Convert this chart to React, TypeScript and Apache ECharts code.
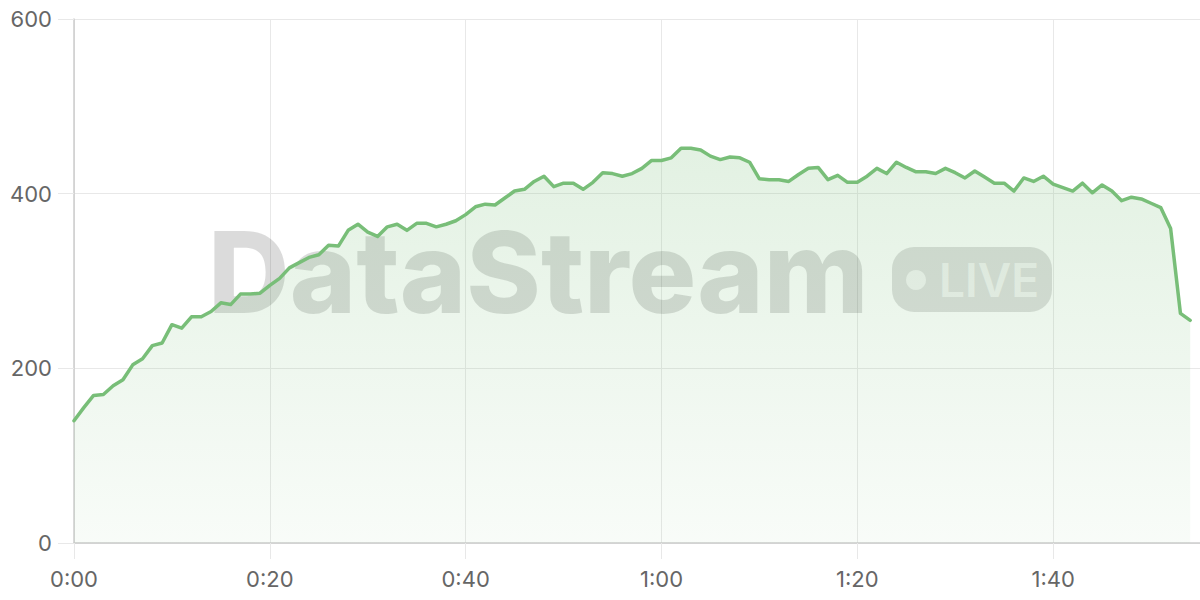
import { useRef, useEffect } from "react";
import * as echarts from "echarts";

// viewers per minute, one sample each minute from 0:00
const viewers = [
  140, 155, 169, 170, 180, 187, 204, 211, 226, 229,
  250, 246, 259, 259, 265, 275, 273, 285, 285, 286,
  295, 303, 315, 321, 327, 330, 341, 340, 358, 365,
  356, 351, 362, 365, 358, 366, 366, 362, 365, 369,
  376, 385, 388, 387, 395, 403, 405, 414, 420, 408,
  412, 412, 405, 413, 424, 423, 420, 423, 429, 438,
  438, 441, 452, 452, 450, 443, 439, 442, 441, 436,
  417, 416, 416, 414, 422, 429, 430, 416, 421, 413,
  413, 420, 429, 423, 436, 430, 425, 425, 423, 429,
  424, 418, 426, 419, 412, 412, 403, 418, 414, 420,
  411, 407, 403, 412, 401, 410, 403, 392, 396, 394,
  389, 384, 360, 263, 255,
];

const yTicks = [0, 200, 400, 600];
const xTickStep = 20;

const fmtTime = (m: number) =>
  Math.floor(m / 60) + ":" + String(Math.round(m) % 60).padStart(2, "0");

const green = "#78be78";
const gridColor = "#e8e8e8";
const axisColor = "#cccccc";
const labelFont = "Inter, 'Noto Sans', sans-serif";

const App = () => {
  const chartRef = useRef<HTMLDivElement>(null);

  useEffect(() => {
    const chart = echarts.init(chartRef.current, null, { renderer: "svg" });

    chart.setOption({
      animation: false,
      grid: { left: 74, right: 0, top: 19, bottom: 57 },
      xAxis: {
        type: "value",
        min: 0,
        max: 115,
        interval: xTickStep,
        axisLine: { show: true, lineStyle: { color: axisColor, width: 1.5 } },
        axisTick: { show: true, length: 16, lineStyle: { color: gridColor } },
        splitLine: { show: true, lineStyle: { color: gridColor, width: 1 } },
        axisLabel: {
          showMaxLabel: false,
          margin: 25,
          color: "#666",
          fontSize: 22,
          fontFamily: labelFont,
          formatter: (v: number) => fmtTime(v),
        },
      },
      yAxis: {
        type: "value",
        min: yTicks[0],
        max: yTicks[yTicks.length - 1],
        interval: yTicks[1] - yTicks[0],
        axisLine: { show: true, lineStyle: { color: axisColor, width: 1.5 } },
        axisTick: { show: true, length: 16, lineStyle: { color: gridColor } },
        splitLine: { show: true, lineStyle: { color: gridColor, width: 1 } },
        axisLabel: {
          margin: 22,
          color: "#666",
          fontSize: 22,
          fontFamily: labelFont,
        },
      },
      graphic: [
        {
          type: "text",
          x: 208,
          y: 272,
          z: 1,
          style: {
            text: "DataStream",
            fontSize: 113,
            fontWeight: 800,
            fontFamily: labelFont,
            fill: "rgba(0,0,0,0.14)",
            align: "left",
            verticalAlign: "middle",
          },
        },
        {
          type: "rect",
          z: 1,
          shape: { x: 892, y: 247, width: 160, height: 65, r: 22 },
          style: { fill: "rgba(0,0,0,0.13)" },
        },
        {
          type: "circle",
          z: 1,
          shape: { cx: 916, cy: 280, r: 10 },
          style: { fill: "rgba(255,255,255,0.65)" },
        },
        {
          type: "text",
          x: 939,
          y: 280,
          z: 1,
          style: {
            text: "LIVE",
            fontSize: 46,
            fontWeight: 600,
            fontFamily: labelFont,
            fill: "rgba(255,255,255,0.65)",
            align: "left",
            verticalAlign: "middle",
          },
        },
      ],
      series: [
        {
          type: "line",
          data: viewers.map((v, i) => [i, v]),
          showSymbol: false,
          smooth: false,
          z: 3,
          lineStyle: { color: green, width: 3.5, join: "round", cap: "round" },
          areaStyle: {
            color: new echarts.graphic.LinearGradient(0, 0, 0, 1, [
              { offset: 0, color: "rgba(120,190,120,0.3)" },
              { offset: 1, color: "rgba(120,190,120,0.07)" },
            ]),
          },
        },
      ],
    });

    return () => {
      chart.dispose();
    };
  }, []);

  return (
    <div
      ref={chartRef}
      style={{ position: "absolute", left: 0, top: 0, width: "1200px", height: "600px" }}
    ></div>
  );
};

export default App;
